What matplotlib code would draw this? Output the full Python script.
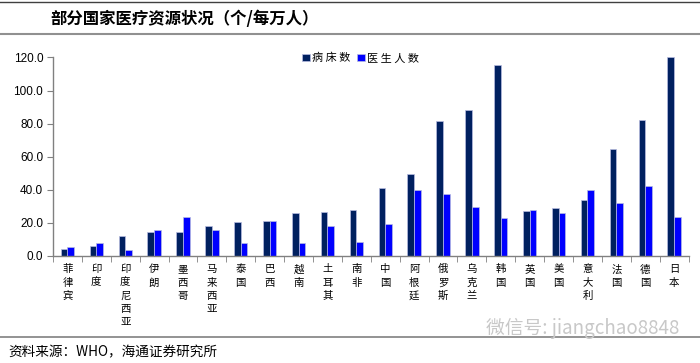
import matplotlib
matplotlib.use("Agg")
import matplotlib.pyplot as plt
from matplotlib.lines import Line2D
import numpy as np

plt.rcParams['font.family'] = ['Noto Sans CJK SC', 'DejaVu Sans']

countries = ['菲律宾', '印度', '印度尼西亚', '伊朗', '墨西哥', '马来西亚', '泰国', '巴西',
             '越南', '土耳其', '南非', '中国', '阿根廷', '俄罗斯', '乌克兰', '韩国',
             '英国', '美国', '意大利', '法国', '德国', '日本']
beds = [4.4, 6.3, 12.1, 14.7, 14.7, 18.0, 20.6, 21.4, 25.7, 26.5, 27.9,
        41.4, 49.7, 81.6, 88.1, 115.2, 27.1, 28.9, 33.9, 64.8, 82.2, 120.0]
doctors = [5.5, 7.9, 3.8, 15.6, 23.8, 15.6, 7.9, 21.4, 7.9, 18.0, 8.7,
           19.6, 39.6, 37.2, 29.5, 23.0, 27.9, 25.7, 39.6, 32.1, 42.2, 23.8]
yticks = [0, 20, 40, 60, 80, 100, 120]

title = '部分国家医疗资源状况（个/每万人）'
source = '资料来源：WHO，海通证券研究所'
watermark = '微信号: jiangchao8848'

fig = plt.figure(figsize=(7, 3.63), dpi=100)
ax = fig.add_axes([0.0757, 0.2948, 0.908, 0.5468])

x = np.arange(len(countries))
w = 0.23
ax.bar(x - w / 2, beds, w, color='#002060', edgecolor='#b8bce0', linewidth=0.5, label='病 床 数')
ax.bar(x + w / 2, doctors, w, color='#0000ff', edgecolor='#b8bce0', linewidth=0.5, label='医 生 人 数')

ax.set_xlim(-0.5, len(countries) - 0.5)
ax.set_ylim(0, 120)
ax.set_yticks(yticks)
ax.set_yticklabels(['%.1f' % v for v in yticks], fontsize=8.5, family=['Liberation Sans', 'DejaVu Sans'])
ax.set_xticks(x)
ax.set_xticklabels(['\n'.join(c) for c in countries], fontsize=7.5, linespacing=1.4, va='top')
ax.tick_params(axis='x', which='major', length=0, pad=6)
ax.set_xticks(np.arange(-0.5, len(countries)), minor=True)
ax.tick_params(axis='x', which='minor', length=4, color='#808080')
ax.tick_params(axis='y', length=4, color='#808080', pad=3)

for s in ['top', 'right']:
    ax.spines[s].set_visible(False)
for s in ['left', 'bottom']:
    ax.spines[s].set_color('#808080')
    ax.spines[s].set_linewidth(1.0)

ax.legend(loc='upper left', bbox_to_anchor=(0.385, 1.045), ncol=2, frameon=False,
          fontsize=8, handlelength=0.7, handleheight=0.7, handletextpad=0.2,
          columnspacing=0.6, borderaxespad=0)

# header / footer decorations
fig.add_artist(Line2D([0, 1], [1 - 2 / 363, 1 - 2 / 363], color='#404040', lw=1.0))
fig.add_artist(Line2D([0, 1], [1 - 34 / 363, 1 - 34 / 363], color='#909090', lw=1.5))
fig.add_artist(Line2D([0, 1], [1 - 337 / 363, 1 - 337 / 363], color='#808080', lw=1.2))

fig.text(185 / 700, 1 - 19 / 363, title, ha='center', va='center', fontsize=11.8, fontweight='bold')
fig.text(8 / 700, 1 - 352 / 363, source, ha='left', va='center', fontsize=9.8)
fig.text(0.97, 1 - 328 / 363, watermark, ha='right', va='center', fontsize=13.5, color='#c8c8c8')

fig.savefig('out.png', dpi=100)
